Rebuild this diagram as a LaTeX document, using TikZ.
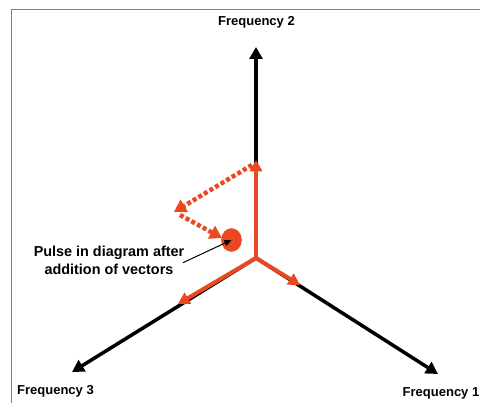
\documentclass[tikz,border=0pt]{standalone}
\usepackage{fontspec}
\setmainfont{Liberation Sans}
\usetikzlibrary{arrows.meta,shapes.geometric}
\definecolor{ored}{RGB}{233,72,32}
\definecolor{framegray}{RGB}{128,128,128}
\tikzset{
  axisarrow/.style={line width=3.5pt,black,-{Triangle[width=13pt,length=12pt]}},
  vecarrow/.style={line width=4pt,ored,-{Triangle[width=12.5pt,length=11.5pt]}},
  sumarrow/.style={line width=4.5pt,ored,dash pattern=on 4pt off 2.5pt,-{Triangle[width=14pt,length=12pt]}},
  freqlabel/.style={font=\fontsize{13}{15}\selectfont\bfseries,inner sep=0pt},
  pulselabel/.style={font=\fontsize{14.4}{18}\selectfont\bfseries,align=center,inner sep=0pt},
  pointer/.style={line width=1pt,black,-{Triangle[width=6pt,length=7pt]}}
}
\begin{document}
\begin{tikzpicture}[x=1pt,y=-1pt]
\useasboundingbox (0,0) rectangle (480,403);
% frame
\draw[framegray,line width=1.5pt] (11.5,403) -- (11.5,9.5) -- (480,9.5);
% coordinates
\coordinate (O) at (256,258);
\coordinate (T2) at (256,47);
\coordinate (T3) at (72,372);
\coordinate (T1) at (438,374);
\coordinate (R2) at (256,160);
\coordinate (R3) at (178,304);
\coordinate (R1) at (300,285);
\coordinate (D1s) at (252,165);
\coordinate (D1e) at (174,212);
\coordinate (D2s) at (180,215);
\coordinate (D2e) at (222,238);
% labels
\node[freqlabel] (f2) at (256.5,22.5) {Frequency 2};
\node[freqlabel,anchor=west] (f3) at (17,391) {Frequency 3};
\node[freqlabel,anchor=east] (f1) at (479.5,393.5) {Frequency 1};
% axes
\draw[axisarrow] (O) -- (T2);
\draw[axisarrow] (O) -- (T3);
\draw[axisarrow] (O) -- (T1);
% red vectors
\draw[vecarrow] (O) -- (R2);
\draw[vecarrow] (O) -- (R3);
\draw[vecarrow] (O) -- (R1);
% dotted sum arrows
\draw[sumarrow] (D1s) -- (D1e);
\draw[sumarrow] (D2s) -- (D2e);
% pulse
\node[ellipse,fill=ored,minimum width=20.6pt,minimum height=23.6pt,inner sep=0pt] (pulse) at (231.5,240) {};
\node[pulselabel] (lbl) at (109,260) {Pulse in diagram after\\addition of vectors};
\coordinate (P0) at (183,262.7);
\draw[pointer] (P0) -- (pulse.center);
\end{tikzpicture}
\end{document}
